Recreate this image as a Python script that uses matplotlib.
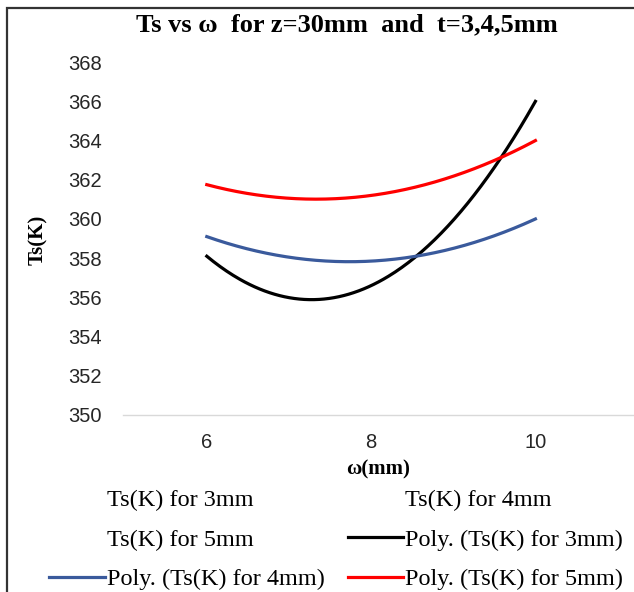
import numpy as np
import matplotlib
matplotlib.use("Agg")
import matplotlib.pyplot as plt
from matplotlib.lines import Line2D
from matplotlib.patches import Rectangle

# data (trendline values at the sample points)
omega = [6, 8, 10]
ts_3mm = [358.1, 356.6, 366.0]
ts_4mm = [359.1, 357.85, 360.0]
ts_5mm = [361.75, 361.2, 364.0]

series_names = ["Ts(K) for 3mm", "Ts(K) for 4mm", "Ts(K) for 5mm"]
series_colors = ["#000000", "#3A5A9C", "#FF0000"]
yticks = list(range(350, 369, 2))
xticks = [6, 8, 10]

serif = ["Liberation Serif", "DejaVu Serif"]
narrow = ["Liberation Sans Narrow", "Liberation Sans", "DejaVu Sans"]

fig = plt.figure(figsize=(6.34, 5.92), dpi=100)
ax = fig.add_axes([0.194, 0.299, 0.806, 0.596])

xs = np.linspace(omega[0], omega[-1], 200)
poly_handles = []
for vals, col in zip([ts_3mm, ts_4mm, ts_5mm], series_colors):
    coef = np.polyfit(omega, vals, 2)
    h, = ax.plot(xs, np.polyval(coef, xs), color=col, lw=2.3)
    poly_handles.append(h)

ax.set_xlim(4.98, 11.2)
ax.set_ylim(350, 368)
ax.set_yticks(yticks)
ax.set_xticks(xticks)
ax.tick_params(axis="y", length=0, pad=15)
ax.tick_params(axis="x", length=0, pad=13)
for lab in ax.get_xticklabels() + ax.get_yticklabels():
    lab.set_family(narrow)
    lab.set_fontsize(14.5)
    lab.set_color("#262626")
for s in ["top", "right", "left"]:
    ax.spines[s].set_visible(False)
ax.spines["bottom"].set_color("#D9D9D9")
ax.spines["bottom"].set_linewidth(1)

fig.text(347 / 634, 1 - 25 / 592, "Ts vs \u03c9  for z=30mm  and  t=3,4,5mm",
         family=serif, fontsize=19, fontweight="bold", ha="center", va="center")
ax.set_xlabel("\u03c9(mm)", family=serif, fontsize=15, fontweight="bold")
ax.xaxis.set_label_coords(0.5, -45 / 353)
ax.set_ylabel("Ts(K)", family=serif, fontsize=15, fontweight="bold")
ax.yaxis.set_label_coords(-75 / 511, 0.496)

blank = [Line2D([], [], lw=0) for _ in series_names]
poly_labels = ["Poly. (" + n + ")" for n in series_names]
# column-wise fill order so the rows read like the reference
handles = [blank[0], blank[2], poly_handles[1], blank[1], poly_handles[0], poly_handles[2]]
labels = [series_names[0], series_names[2], poly_labels[1],
          series_names[1], poly_labels[0], poly_labels[2]]
fig.legend(handles, labels, loc="lower left", bbox_to_anchor=(0.055, -0.022),
           ncol=2, frameon=False, prop={"family": serif, "size": 17.5},
           handlelength=2.3, handletextpad=0.05, columnspacing=0.95,
           labelspacing=0.72, borderaxespad=0.2)

fig.patches.append(Rectangle((7 / 634, -0.02), 1.2, 0.986 + 0.02,
                             transform=fig.transFigure, fill=False,
                             edgecolor="#333333", lw=1.6))

fig.savefig("out.png", dpi=100)
